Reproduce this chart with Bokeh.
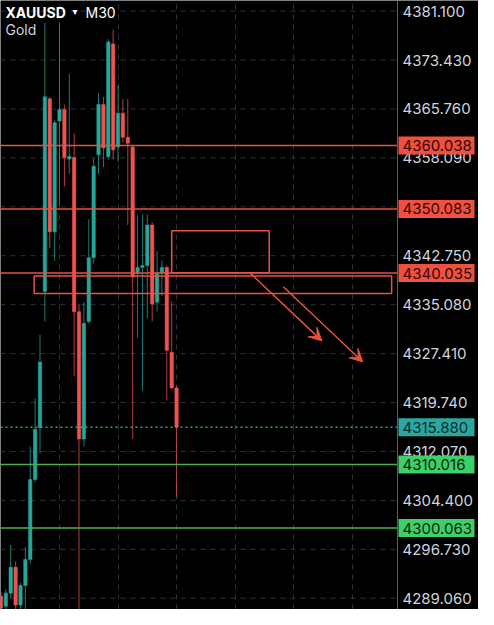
from bokeh.plotting import figure
from bokeh.models import (Span, Label, Arrow, VeeHead, FixedTicker, ColumnDataSource)
from bokeh.core.properties import value
from bokeh.embed import file_html
from bokeh.resources import INLINE

# ---------------- data ----------------
symbol = "XAUUSD"
timeframe = "M30"
instrument = "Gold"

opens = [4289.4, 4287.8, 4289.86, 4293.94, 4288.0, 4291.07, 4295.15, 4307.68, 4315.84, 4337.14,
         4367.35, 4346.50, 4363.88, 4365.69, 4357.9, 4358.14, 4333.97, 4314.03, 4332.46, 4342.43,
         4358.59, 4366.45, 4358.29, 4375.96, 4359.80, 4365.09, 4361.31, 4359.80, 4340.02, 4340.92,
         4341.22, 4347.56, 4335.48, 4340.02, 4340.92, 4327.62, 4322.03]
highs = [4290.0, 4290.5, 4297.41, 4294.84, 4291.5, 4297.11, 4312.82, 4320.37, 4330.34, 4379.3,
         4367.6, 4364.0, 4379.3, 4366.45, 4371.28, 4361.92, 4335.18, 4335.48, 4348.47, 4358.0,
         4368.26, 4367.66, 4376.72, 4378.23, 4369.47, 4367.35, 4367.35, 4360.0, 4349.07, 4349.23,
         4349.23, 4348.02, 4343.49, 4341.97, 4341.22, 4335.63, 4322.3]
lows = [4286.0, 4286.0, 4289.0, 4286.0, 4286.0, 4287.0, 4294.5, 4307.2, 4311.76, 4332.46,
        4343.94, 4341.97, 4350.59, 4353.61, 4355.57, 4323.85, 4286.0, 4312.82, 4332.16, 4341.5,
        4355.57, 4356.63, 4357.84, 4357.84, 4357.5, 4360.5, 4347.56, 4314.03, 4329.89, 4321.58,
        4332.91, 4332.46, 4333.97, 4336.39, 4320.07, 4321.8, 4304.97]
closes = [4287.5, 4289.86, 4293.94, 4288.0, 4291.07, 4295.15, 4307.68, 4315.54, 4326.11, 4367.66,
          4346.50, 4363.58, 4365.69, 4358.14, 4358.3, 4333.97, 4314.03, 4332.16, 4342.43, 4356.78,
          4366.45, 4359.65, 4376.27, 4359.35, 4365.09, 4361.31, 4360.40, 4339.41, 4340.92, 4341.22,
          4347.56, 4335.18, 4340.02, 4340.92, 4327.93, 4322.03, 4315.88]

tick_values = [4381.100, 4373.430, 4365.760, 4358.090, 4350.420, 4342.750, 4335.080,
               4327.410, 4319.740, 4312.070, 4304.400, 4296.730, 4289.060]
time_grid = [12, 24, 36, 48, 60, 72]

red_levels = [4360.038, 4350.083, 4340.035]
green_levels = [4310.016, 4300.063]
last_price = 4315.880

zone_left = [35.0, 6.8]
zone_right = [55.0, 80.1]
zone_top = [4346.66, 4339.56]
zone_bottom = [4340.10, 4336.84]

arrow_x0 = [51.0, 57.9]
arrow_y0 = [4340.1, 4337.9]
arrow_x1 = [65.8, 74.2]
arrow_y1 = [4329.4, 4326.1]

# ---------------- style / geometry ----------------
UP = "#26a69a"
DOWN = "#ef5350"
RED_LINE = "#e8513f"
RED_TAG = "#f0503e"
GREEN_LINE = "#4caf50"
GREEN_TAG = "#3fcf68"
TEAL_TAG = "#2aa7a0"
GRID = "#2f323b"
TEXT = "#d1d4dc"
FONT = "Inter"

W, H = 478, 609
CHART_PX = 397              # width of the candle area, rest is the price scale
X0, AX = -0.1, 81.3         # index range of the candle area (AX = price-axis position)
XPX = CHART_PX / (AX - X0)  # pixels per index unit
X1 = X0 + W / XPX
Y0, Y1 = 4287.3, 4382.76
YPX = H / (Y1 - Y0)

p = figure(width=W, height=H, x_range=(X0, X1), y_range=(Y0, Y1),
           output_backend="svg", toolbar_location=None,
           background_fill_color="#000000", border_fill_color="#000000",
           min_border=0)
p.outline_line_color = None
p.xaxis.visible = False
p.yaxis.visible = False
p.ygrid.visible = False
p.xgrid.ticker = FixedTicker(ticks=time_grid)
p.xgrid.grid_line_color = GRID
p.xgrid.grid_line_dash = "5 5"

# horizontal grid (only over the candle area)
p.segment(x0=[X0] * len(tick_values), x1=[AX] * len(tick_values),
          y0=tick_values, y1=tick_values, line_color=GRID, line_dash="5 5", line_width=1)

# price axis line
p.add_layout(Span(location=AX, dimension="height", line_color="#5d606b", line_width=1))

# candles
idx = list(range(len(opens)))
colors = [UP if c >= o else DOWN for o, c in zip(opens, closes)]
src = ColumnDataSource(dict(
    x=idx, open=opens, high=highs, low=lows, close=closes,
    top=[max(o, c) for o, c in zip(opens, closes)],
    bottom=[min(o, c) for o, c in zip(opens, closes)],
    color=colors))
p.segment(x0="x", y0="low", x1="x", y1="high", source=src,
          line_color="color", line_width=1, line_alpha=0.75)
p.vbar(x="x", width=0.7, top="top", bottom="bottom", source=src,
       fill_color="color", line_color="color", line_width=0.5)

# horizontal levels (over the candle area)
p.segment(x0=[X0] * 3, x1=[AX] * 3, y0=red_levels, y1=red_levels,
          line_color=RED_LINE, line_width=1.5)
p.segment(x0=[X0] * 2, x1=[AX] * 2, y0=green_levels, y1=green_levels,
          line_color=GREEN_LINE, line_width=1.5)
p.segment(x0=[X0], x1=[AX], y0=[last_price], y1=[last_price],
          line_color=UP, line_width=1.5, line_dash="2 3")

# zones
p.quad(left=zone_left, right=zone_right, top=zone_top, bottom=zone_bottom,
       fill_alpha=0, line_color=RED_LINE, line_width=1.5)

# arrows
for xs, ys, xe, ye in zip(arrow_x0, arrow_y0, arrow_x1, arrow_y1):
    p.add_layout(Arrow(x_start=xs, y_start=ys, x_end=xe, y_end=ye,
                       line_color=RED_LINE, line_width=1.5,
                       end=VeeHead(size=13, fill_color=RED_LINE, line_color=RED_LINE,
                                   line_width=1)))

# price scale labels
p.text(x=[AX] * len(tick_values), y=tick_values,
       text=[f"{t:.3f}" for t in tick_values], x_offset=5,
       text_align="left", text_baseline="middle", text_color=TEXT,
       text_font=value(FONT), text_font_size="15px")

# price tags
tag_levels = red_levels + green_levels + [last_price]
tag_fill = [RED_TAG] * 3 + [GREEN_TAG] * 2 + [TEAL_TAG]
tag_text = ["#2b0704"] * 3 + ["#05260e"] * 2 + ["#04302c"]
half_h = 9 / YPX
p.quad(left=[AX + 1 / XPX] * 6, right=[AX + 77 / XPX] * 6,
       top=[v + half_h for v in tag_levels], bottom=[v - half_h for v in tag_levels],
       fill_color=tag_fill, line_color=None)
p.text(x=[AX] * 6, y=tag_levels, text=[f"{v:.3f}" for v in tag_levels], x_offset=5,
       text_align="left", text_baseline="middle", text_color=tag_text,
       text_font=value(FONT), text_font_size="15px")

# title
p.add_layout(Label(x=5, y=H - 3, x_units="screen", y_units="screen", text=symbol,
                   text_baseline="top", text_font=FONT, text_font_size="14px",
                   text_font_style="bold", text_color="#ffffff"))
p.add_layout(Label(x=72, y=H - 5, x_units="screen", y_units="screen", text="\u25be",
                   text_baseline="top", text_font="DejaVu Sans", text_font_size="10px",
                   text_color="#ffffff"))
p.add_layout(Label(x=85, y=H - 3, x_units="screen", y_units="screen", text=timeframe,
                   text_baseline="top", text_font=FONT, text_font_size="14px",
                   text_color="#ffffff"))
p.add_layout(Label(x=5, y=H - 20, x_units="screen", y_units="screen", text=instrument,
                   text_baseline="top", text_font=FONT, text_font_size="14px",
                   text_color=TEXT))

open("out.html", "w").write(file_html(p, INLINE))
